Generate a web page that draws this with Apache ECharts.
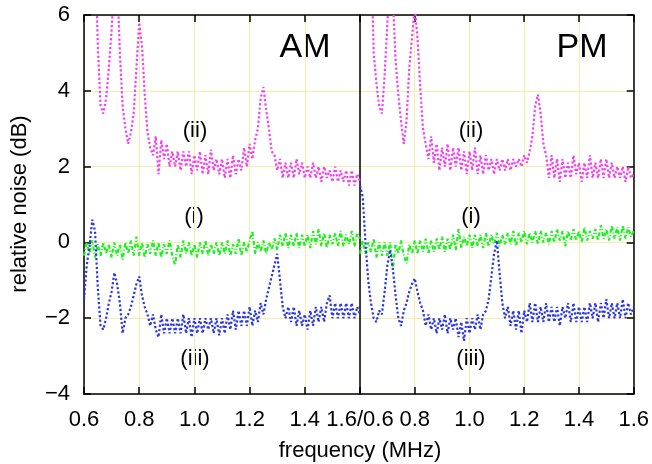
<!DOCTYPE html>
<html lang="en">

<head>
  <meta charset="UTF-8">
  <title>relative noise AM / PM</title>
  <script src="https://cdn.jsdelivr.net/npm/echarts@6/dist/echarts.min.js"></script>
</head>

<body style="margin:0">
  <div id="main" style="width: 652px;height:464px;"></div>
  <script>
    // frequency samples (MHz), shared by every trace
    var freq = [
      0.60, 0.61, 0.62, 0.63, 0.64, 0.65, 0.66, 0.67, 0.68, 0.69,
      0.70, 0.71, 0.72, 0.73, 0.74, 0.75, 0.76, 0.77, 0.78, 0.79,
      0.80, 0.81, 0.82, 0.83, 0.84, 0.85, 0.86, 0.87, 0.88, 0.89,
      0.90, 0.91, 0.92, 0.93, 0.94, 0.95, 0.96, 0.97, 0.98, 0.99,
      1.00, 1.01, 1.02, 1.03, 1.04, 1.05, 1.06, 1.07, 1.08, 1.09,
      1.10, 1.11, 1.12, 1.13, 1.14, 1.15, 1.16, 1.17, 1.18, 1.19,
      1.20, 1.21, 1.22, 1.23, 1.24, 1.25, 1.26, 1.27, 1.28, 1.29,
      1.30, 1.31, 1.32, 1.33, 1.34, 1.35, 1.36, 1.37, 1.38, 1.39,
      1.40, 1.41, 1.42, 1.43, 1.44, 1.45, 1.46, 1.47, 1.48, 1.49,
      1.50, 1.51, 1.52, 1.53, 1.54, 1.55, 1.56, 1.57, 1.58, 1.59,
      1.60
    ];

    // AM panel, relative noise (dB)
    var amTwo = [
      9, 9, 9, 9, 8, 5.2, 3.6, 3.4, 3.8, 4.6,
      5.6, 7, 7, 5.0, 3.6, 3.0, 2.6, 2.9, 3.4, 4.6,
      5.8, 5.2, 3.9, 2.9, 2.5, 2.3, 2.8, 1.8, 2.7, 2.2,
      2.6, 2.0, 2.4, 2.0, 2.4, 1.9, 2.4, 2.0, 2.4, 1.8,
      2.3, 1.9, 2.4, 1.8, 2.3, 1.8, 2.45, 1.9, 2.2, 1.8,
      2.2, 1.7, 2.2, 1.7, 2.3, 1.8, 2.2, 1.9, 2.5, 2.0,
      2.6, 2.2, 2.7, 3.0, 3.8, 4.1, 3.5, 3.0, 2.4, 2.3,
      1.9, 2.2, 1.7, 2.1, 1.7, 2.1, 1.7, 2.2, 1.8, 2.1,
      1.7, 2.0, 1.7, 2.1, 1.7, 2.0, 1.6, 2.0, 1.7, 1.9,
      1.6, 2.0, 1.6, 1.9, 1.6, 1.9, 1.5, 1.9, 1.5, 1.8,
      1.6
    ];
    var amOne = [
      -0.35, 0.0, -0.3, 0.05, -0.4, -0.05, -0.35, 0.0, -0.3, -0.05,
      -0.4, 0.0, -0.35, -0.05, -0.45, 0.0, -0.3, 0.05, -0.35, 0.15,
      -0.35, 0.0, -0.4, -0.05, -0.3, 0.05, -0.35, 0.0, -0.4, -0.05,
      -0.3, 0.05, -0.35, -0.6, -0.05, -0.4, 0.05, -0.3, 0.0, -0.35,
      -0.05, -0.4, 0.0, -0.3, 0.05, -0.35, -0.05, -0.3, 0.0, -0.35,
      0.0, -0.3, 0.05, -0.35, -0.05, -0.3, 0.1, -0.35, 0.0, -0.25,
      0.05, 0.3, -0.3, 0.0, -0.25, 0.05, -0.3, 0.0, -0.2, 0.1,
      -0.2, 0.2, -0.1, 0.25, -0.15, 0.2, -0.1, 0.25, -0.15, 0.2,
      -0.1, 0.2, -0.15, 0.3, -0.05, 0.35, -0.1, 0.25, -0.15, 0.2,
      -0.05, 0.25, -0.1, 0.3, -0.1, 0.2, -0.05, 0.3, -0.1, 0.25,
      0.1
    ];
    var amThree = [
      -1.5, -0.6, -0.1, 0.6, 0.3, -1.2, -2.2, -2.3, -2.0, -1.6,
      -1.3, -0.8, -1.1, -1.6, -2.4, -2.0, -1.9, -1.7, -1.4, -1.1,
      -0.9, -1.4, -1.7, -1.9, -2.2, -1.9, -2.3, -2.5, -1.9, -2.4,
      -2.0, -2.4, -2.0, -2.4, -2.0, -2.4, -1.9, -2.4, -2.0, -2.5,
      -2.0, -2.4, -2.0, -2.4, -2.0, -2.3, -2.0, -2.4, -2.0, -2.45,
      -2.0, -2.4, -1.9, -2.3, -1.8, -2.3, -1.8, -2.2, -1.8, -2.2,
      -1.7, -2.2, -1.8, -2.1, -1.6, -1.9, -1.5, -1.2, -0.9, -0.6,
      -0.3, -1.0, -1.7, -2.0, -1.7, -2.1, -1.7, -2.2, -1.8, -2.2,
      -1.9, -2.3, -1.8, -2.2, -1.7, -2.1, -1.7, -2.1, -1.6, -1.4,
      -2.0, -1.6, -2.0, -1.6, -2.0, -1.6, -2.0, -1.6, -2.0, -1.7,
      -1.9
    ];

    // PM panel, relative noise (dB)
    var pmTwo = [
      9, 9, 9, 9, 8, 5.0, 4.2, 3.6, 3.4, 4.4,
      5.8, 7, 6.5, 4.8, 3.9, 3.2, 2.6, 3.2, 4.6, 5.4,
      6.2, 5.4, 4.1, 3.0, 2.6, 2.2, 2.8, 2.1, 2.6, 1.9,
      2.5, 2.0, 2.6, 1.9, 2.5, 2.0, 2.5, 1.9, 2.4, 1.8,
      2.4, 1.9, 2.5, 1.8, 2.3, 1.8, 2.3, 1.9, 2.2, 1.8,
      2.2, 1.9, 2.2, 1.9, 2.2, 1.9, 2.2, 2.0, 2.2, 2.0,
      2.3, 2.1, 2.4, 2.8, 3.6, 3.9, 3.4, 2.6, 2.3, 1.7,
      2.3, 1.7, 2.2, 1.6, 2.2, 1.7, 2.1, 1.7, 2.3, 1.8,
      2.1, 1.6, 2.1, 1.7, 2.3, 1.7, 2.1, 1.7, 2.2, 1.7,
      2.2, 1.7, 2.1, 1.7, 2.0, 1.7, 2.0, 1.6, 2.0, 1.7,
      1.8
    ];
    var pmOne = [
      -0.3, 0.05, -0.3, 0.0, -0.25, 0.1, -0.4, 0.0, -0.35, 0.0,
      -0.35, 0.0, -0.7, -0.05, -0.3, 0.05, -0.35, -0.55, -0.05, -0.3,
      0.05, -0.3, 0.05, -0.25, 0.1, -0.3, 0.05, -0.25, 0.1, -0.2,
      0.15, -0.25, 0.1, -0.2, 0.2, -0.2, 0.35, -0.15, 0.15, -0.1,
      0.2, -0.15, 0.2, -0.1, 0.2, -0.15, 0.25, -0.1, 0.2, -0.05,
      0.25, -0.1, 0.2, -0.05, 0.25, -0.05, 0.3, -0.1, 0.25, 0.0,
      0.3, -0.05, 0.25, 0.0, 0.3, -0.05, 0.3, 0.0, 0.25, -0.05,
      0.3, 0.0, 0.35, 0.05, 0.3, -0.1, 0.3, 0.05, 0.35, 0.05,
      0.3, 0.0, 0.4, 0.05, 0.3, 0.1, 0.35, 0.05, 0.45, 0.1,
      0.35, 0.05, 0.45, 0.1, 0.4, 0.05, 0.45, 0.1, 0.4, 0.15,
      0.3
    ];
    var pmThree = [
      1.5, 1.2, 0.0, -1.0, -1.6, -2.0, -2.1, -1.8, -1.9, -1.3,
      -0.6, -0.2, -0.7, -1.4, -2.0, -2.2, -1.8, -1.6, -1.3, -1.1,
      -0.95, -1.3, -1.6, -1.8, -2.2, -1.9, -2.3, -2.0, -2.4, -2.0,
      -2.3, -1.9, -2.4, -2.0, -2.3, -2.0, -2.5, -2.1, -2.6, -2.0,
      -2.4, -2.0, -2.3, -1.9, -2.3, -1.9, -1.8, -1.5, -0.9, -0.3,
      0.05, -0.8, -1.6, -2.0, -1.7, -2.2, -1.8, -2.3, -1.8, -2.4,
      -1.8, -2.1, -1.6, -2.1, -1.6, -2.1, -1.7, -2.1, -1.6, -2.1,
      -1.7, -2.1, -1.7, -2.2, -1.7, -2.0, -1.6, -2.1, -1.6, -2.1,
      -1.7, -2.1, -1.7, -2.1, -1.6, -2.0, -1.6, -2.1, -1.6, -2.0,
      -1.5, -2.0, -1.6, -2.0, -1.6, -2.0, -1.5, -2.0, -1.6, -1.9,
      -1.7
    ];

    var magenta = '#f040f0';
    var green = '#22ee22';
    var blue = '#2a36e0';
    var font = 'Liberation Sans, Arial, Helvetica, sans-serif';

    function pairs(ys) {
      return freq.map(function (f, i) { return [f, ys[i]]; });
    }

    function minus(v) {
      return v < 0 ? '\u2212' + (-v) : String(v);
    }

    // x axis (bottom ticks + labels, or top ticks only)
    function xAx(grid, top, fmt) {
      return {
        type: 'value', gridIndex: grid, position: top ? 'top' : 'bottom',
        min: 0.6, max: 1.6, interval: 0.2,
        axisLine: { show: true, onZero: false, lineStyle: { color: '#000', width: 1.5 } },
        axisTick: { show: true, inside: true, length: 7, lineStyle: { color: '#000', width: 1.5 } },
        axisLabel: { show: !top, formatter: fmt, color: '#000', fontSize: 22, fontFamily: font, margin: 15 },
        splitLine: { show: !top, lineStyle: { color: '#f2f0a8', width: 1 } }
      };
    }

    function yAx(grid, pos, labels, ticks) {
      return {
        type: 'value', gridIndex: grid, position: pos,
        min: -4, max: 6, interval: 2,
        axisLine: { show: true, onZero: false, lineStyle: { color: '#000', width: 1.5 } },
        axisTick: { show: ticks, inside: true, length: 7, lineStyle: { color: '#000', width: 1.5 } },
        axisLabel: { show: labels, formatter: minus, color: '#000', fontSize: 22, fontFamily: font, margin: 14 },
        splitLine: { show: pos === 'left', lineStyle: { color: '#f2f0a8', width: 1 } }
      };
    }

    function trace(data, color, xi, yi, dash) {
      return {
        type: 'line', xAxisIndex: xi, yAxisIndex: yi,
        data: pairs(data), showSymbol: false, symbol: 'none', silent: true,
        lineStyle: { color: color, width: 2.2, type: dash }
      };
    }

    function label(x, y, s, size) {
      return {
        type: 'text', x: x, y: y,
        style: { text: s, fontSize: size, fontFamily: font, fill: '#000', align: 'center', verticalAlign: 'middle' }
      };
    }

    option = {
      animation: false,
      backgroundColor: '#fff',
      grid: [
        { left: 84, top: 15, width: 276, bottom: 70 },
        { left: 360, top: 15, width: 276, bottom: 70 }
      ],
      xAxis: [
        xAx(0, false, function (v) { return v === 1.6 ? '1.6/0.6' : v.toFixed(1); }),
        xAx(0, true),
        xAx(1, false, function (v) { return v === 0.6 ? '' : v.toFixed(1); }),
        xAx(1, true)
      ],
      yAxis: [
        yAx(0, 'left', true, true),
        yAx(1, 'left', false, false),
        yAx(1, 'right', false, true)
      ],
      series: [
        trace(amTwo, magenta, 0, 0, 'dotted'),
        trace(amOne, green, 0, 0, [4, 2, 1, 2]),
        trace(amThree, blue, 0, 0, 'dotted'),
        trace(pmTwo, magenta, 2, 1, 'dotted'),
        trace(pmOne, green, 2, 1, [4, 2, 1, 2]),
        trace(pmThree, blue, 2, 1, 'dotted')
      ],
      graphic: [
        {
          type: 'text', x: 20, y: 204, rotation: Math.PI / 2,
          style: { text: 'relative noise (dB)', fontSize: 22, fontFamily: font, fill: '#000', align: 'center', verticalAlign: 'middle' }
        },
        label(360, 451, 'frequency (MHz)', 22),
        label(305, 48, 'AM', 34),
        label(582, 48, 'PM', 34),
        label(195, 131, '(ii)', 22),
        label(471, 131, '(ii)', 22),
        label(194, 217, '(i)', 22),
        label(471, 217, '(i)', 22),
        label(195, 359, '(iii)', 22),
        label(471, 359, '(iii)', 22)
      ]
    };

    var myChart = echarts.init(document.getElementById('main'));
    myChart.setOption(option);
  </script>
</body>

</html>
